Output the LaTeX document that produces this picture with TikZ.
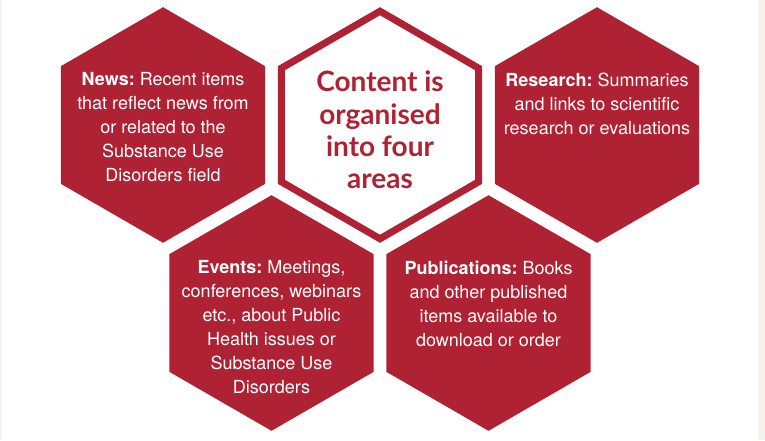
\documentclass[tikz,border=0pt]{standalone}
\usepackage{fontspec}
\setmainfont{TeX Gyre Heros}
\newfontfamily\latofont{Lato}
\usetikzlibrary{shapes.geometric}
\definecolor{hexred}{HTML}{AF2234}
\definecolor{pagecream}{HTML}{F6F3EA}
\frenchspacing
\begin{document}
\begin{tikzpicture}[x=1pt,y=-1pt,
  hexagon/.style={regular polygon,regular polygon sides=6,shape border rotate=30,
    inner sep=0pt,outer sep=0pt,minimum size=235.6pt,fill=hexred},
  hexlabel/.style={anchor=north,inner sep=0pt,align=center,text=white,
    font=\fontsize{18}{24}\selectfont}]
 \fill[pagecream](0,0) rectangle (765,440);
 \fill[white](2,0) rectangle (758,440);
 \useasboundingbox (0,0) rectangle (765,440);
 % top row
 \node[hexagon] (news) at (163,125) {};
 \node[hexagon,fill=white,draw=hexred,line width=7pt,minimum size=227.5pt] (areas) at (380,125) {};
 \node[hexagon] (research) at (597,125) {};
 % bottom row
 \node[hexagon] (events) at (271.5,313) {};
 \node[hexagon] (publications) at (488.5,313) {};
 % texts
 \node[hexlabel] (newstext) at ([yshift=52.5pt]news.center)
   {\textbf{News:} Recent items\\that reflect news from\\or related to the\\Substance Use\\Disorders field};
 \node[anchor=north,inner sep=0pt,align=center,text=hexred,
   font=\latofont\fontsize{28}{32.3}\selectfont\bfseries] (areastext) at ([yshift=54pt]areas.center)
   {Content is\\organised\\into four\\areas};
 \node[hexlabel] (researchtext) at ([yshift=52.5pt]research.center)
   {\textbf{Research:} Summaries\\and links to scientific\\research or evaluations};
 \node[hexlabel] (eventstext) at ([yshift=52.5pt]events.center)
   {\textbf{Events:} Meetings,\\conferences, webinars\\etc., about Public\\Health issues or\\Substance Use\\Disorders};
 \node[hexlabel] (publicationstext) at ([yshift=52.5pt]publications.center)
   {\textbf{Publications:} Books\\and other published\\items available to\\download or order};
\end{tikzpicture}
\end{document}
